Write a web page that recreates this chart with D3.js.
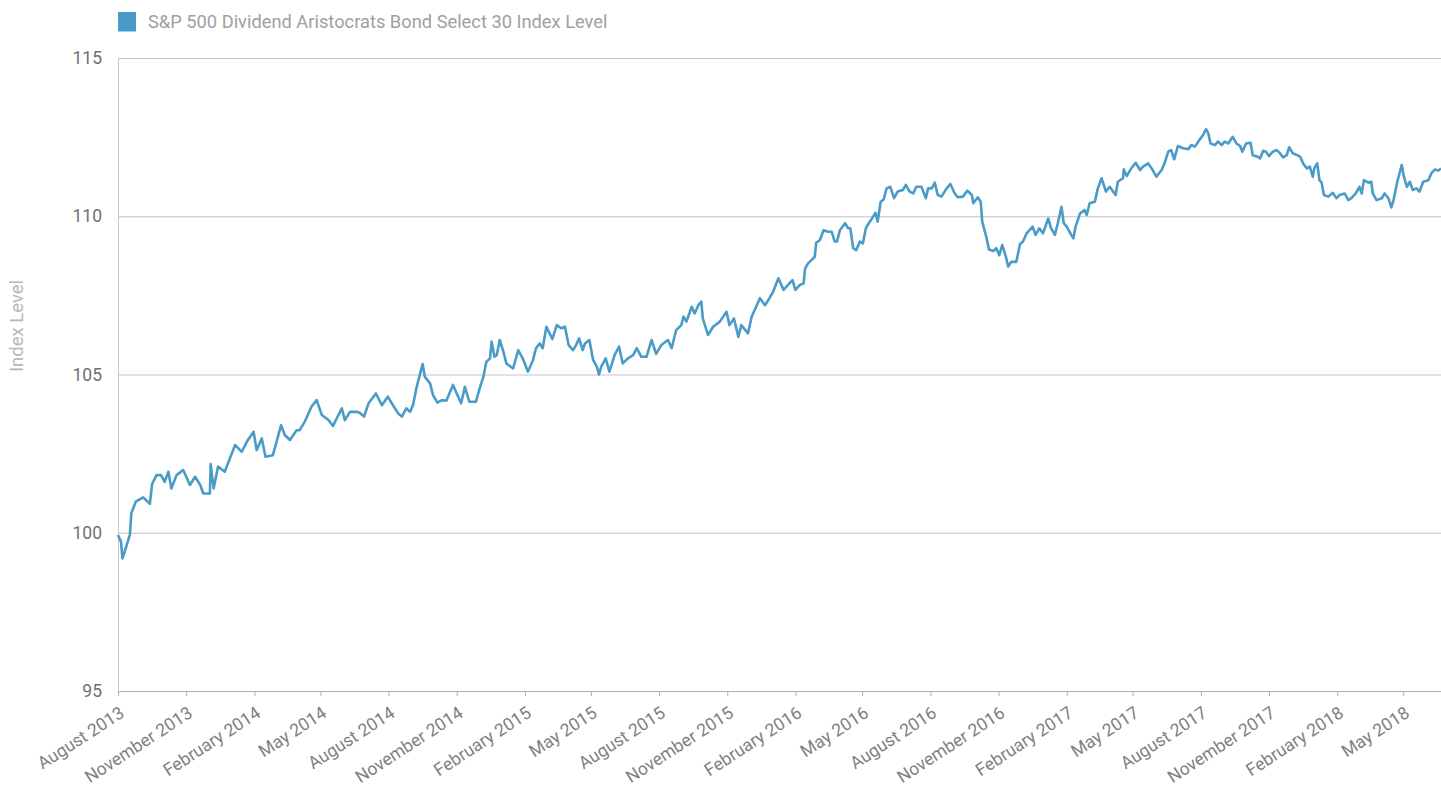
<!DOCTYPE html>
<html><head><meta charset="utf-8">
<script src="https://cdn.jsdelivr.net/npm/d3@7"></script>
<style>
html,body{margin:0;padding:0;background:#fff;}
svg{display:block;font-family:Roboto,"Open Sans",sans-serif;}
</style></head>
<body>
<svg id="chart" width="1441" height="787"></svg>
<script>
const seriesName = "S&P 500 Dividend Aristocrats Bond Select 30 Index Level";
const yAxisTitle = "Index Level";
const yTicks = [95, 100, 105, 110, 115];
const xTickDates = ["2013-08-01","2013-11-01","2014-02-01","2014-05-01","2014-08-01","2014-11-01","2015-02-01","2015-05-01","2015-08-01","2015-11-01","2016-02-01","2016-05-01","2016-08-01","2016-11-01","2017-02-01","2017-05-01","2017-08-01","2017-11-01","2018-02-01","2018-05-01"];
const dates = [
"2013-08-01","2013-08-05","2013-08-07","2013-08-10","2013-08-17","2013-08-19","2013-08-25","2013-09-04","2013-09-13","2013-09-16",
"2013-09-22","2013-09-28","2013-10-03","2013-10-08","2013-10-12","2013-10-19","2013-10-28","2013-11-06","2013-11-13","2013-11-20",
"2013-11-24","2013-12-03","2013-12-04","2013-12-08","2013-12-14","2013-12-23","2013-12-30","2014-01-06","2014-01-15","2014-01-22",
"2014-01-31","2014-02-04","2014-02-11","2014-02-16","2014-02-26","2014-03-03","2014-03-09","2014-03-14","2014-03-21","2014-03-30",
"2014-04-03","2014-04-10","2014-04-19","2014-04-26","2014-05-03","2014-05-12","2014-05-18","2014-05-23","2014-05-30","2014-06-03",
"2014-06-10","2014-06-19","2014-06-23","2014-06-29","2014-07-05","2014-07-15","2014-07-23","2014-07-31","2014-08-07","2014-08-14",
"2014-08-19","2014-08-25","2014-08-30","2014-09-03","2014-09-08","2014-09-16","2014-09-19","2014-09-26","2014-09-30","2014-10-06",
"2014-10-12","2014-10-18","2014-10-27","2014-11-01","2014-11-07","2014-11-12","2014-11-18","2014-11-27","2014-12-02","2014-12-07",
"2014-12-11","2014-12-16","2014-12-18","2014-12-22","2014-12-25","2014-12-29","2015-01-03","2015-01-07","2015-01-16","2015-01-23",
"2015-01-30","2015-02-05","2015-02-07","2015-02-12","2015-02-16","2015-02-21","2015-02-25","2015-03-02","2015-03-10","2015-03-16",
"2015-03-22","2015-03-27","2015-04-01","2015-04-07","2015-04-11","2015-04-15","2015-04-20","2015-04-23","2015-04-29","2015-05-04",
"2015-05-09","2015-05-12","2015-05-15","2015-05-21","2015-05-26","2015-06-02","2015-06-08","2015-06-13","2015-06-20","2015-06-27",
"2015-07-02","2015-07-08","2015-07-15","2015-07-22","2015-07-28","2015-08-04","2015-08-13","2015-08-18","2015-08-24","2015-08-31",
"2015-09-03","2015-09-07","2015-09-14","2015-09-18","2015-09-23","2015-09-27","2015-09-29","2015-10-06","2015-10-13","2015-10-22",
"2015-10-31","2015-11-04","2015-11-10","2015-11-16","2015-11-20","2015-11-29","2015-12-04","2015-12-10","2015-12-15","2015-12-22",
"2015-12-28","2016-01-02","2016-01-09","2016-01-16","2016-01-22","2016-01-28","2016-02-01","2016-02-07","2016-02-12","2016-02-14",
"2016-02-18","2016-02-23","2016-02-27","2016-02-29","2016-03-05","2016-03-10","2016-03-16","2016-03-21","2016-03-25","2016-03-28",
"2016-04-01","2016-04-08","2016-04-12","2016-04-15","2016-04-19","2016-04-23","2016-04-28","2016-05-02","2016-05-06","2016-05-10",
"2016-05-16","2016-05-19","2016-05-22","2016-05-26","2016-05-30","2016-06-03","2016-06-08","2016-06-13","2016-06-18","2016-06-25",
"2016-06-29","2016-07-04","2016-07-09","2016-07-13","2016-07-20","2016-07-26","2016-07-29","2016-08-03","2016-08-07","2016-08-11",
"2016-08-16","2016-08-23","2016-08-28","2016-09-03","2016-09-07","2016-09-14","2016-09-20","2016-09-26","2016-09-28","2016-10-04",
"2016-10-08","2016-10-10","2016-10-16","2016-10-19","2016-10-25","2016-10-29","2016-11-02","2016-11-06","2016-11-11","2016-11-14",
"2016-11-18","2016-11-25","2016-11-30","2016-12-04","2016-12-09","2016-12-17","2016-12-21","2016-12-26","2016-12-31","2017-01-07",
"2017-01-11","2017-01-16","2017-01-20","2017-01-25","2017-01-28","2017-02-01","2017-02-06","2017-02-10","2017-02-13","2017-02-19",
"2017-02-25","2017-02-28","2017-03-04","2017-03-11","2017-03-15","2017-03-20","2017-03-26","2017-03-31","2017-04-08","2017-04-11",
"2017-04-18","2017-04-19","2017-04-23","2017-04-29","2017-05-05","2017-05-11","2017-05-15","2017-05-22","2017-05-28","2017-06-02",
"2017-06-09","2017-06-13","2017-06-18","2017-06-22","2017-06-26","2017-07-01","2017-07-08","2017-07-15","2017-07-19","2017-07-24",
"2017-07-30","2017-08-04","2017-08-08","2017-08-11","2017-08-14","2017-08-20","2017-08-24","2017-08-29","2017-09-02","2017-09-07",
"2017-09-13","2017-09-18","2017-09-23","2017-09-26","2017-10-01","2017-10-07","2017-10-10","2017-10-17","2017-10-20","2017-10-24",
"2017-10-28","2017-11-01","2017-11-06","2017-11-11","2017-11-15","2017-11-20","2017-11-25","2017-11-28","2017-12-03","2017-12-09",
"2017-12-13","2017-12-17","2017-12-22","2017-12-26","2017-12-30","2018-01-01","2018-01-05","2018-01-08","2018-01-11","2018-01-14",
"2018-01-20","2018-01-26","2018-01-31","2018-02-04","2018-02-11","2018-02-16","2018-02-20","2018-02-26","2018-03-03","2018-03-06",
"2018-03-09","2018-03-15","2018-03-19","2018-03-21","2018-03-26","2018-04-02","2018-04-06","2018-04-11","2018-04-15","2018-04-18",
"2018-04-23","2018-04-29","2018-05-02","2018-05-06","2018-05-10","2018-05-14","2018-05-19","2018-05-23","2018-05-28","2018-06-04",
"2018-06-08","2018-06-13","2018-06-17","2018-06-21"
];
const values = [
99.93,99.72,99.19,99.40,99.93,100.62,100.98,101.12,100.91,101.54,
101.82,101.82,101.61,101.93,101.40,101.82,101.98,101.51,101.77,101.51,
101.24,101.24,102.17,101.40,102.09,101.93,102.35,102.77,102.56,102.88,
103.19,102.61,102.98,102.40,102.45,102.88,103.40,103.09,102.93,103.24,
103.24,103.51,103.98,104.19,103.72,103.56,103.37,103.61,103.93,103.56,
103.82,103.82,103.79,103.67,104.09,104.40,104.03,104.30,104.03,103.77,
103.67,103.93,103.82,104.03,104.61,105.33,104.93,104.72,104.35,104.11,
104.19,104.17,104.67,104.40,104.09,104.61,104.14,104.14,104.56,104.93,
105.40,105.51,106.04,105.56,105.61,106.09,105.72,105.35,105.19,105.77,
105.46,105.09,105.19,105.46,105.83,105.98,105.83,106.51,106.12,106.56,
106.46,106.51,105.93,105.77,105.93,106.14,105.77,105.98,106.09,105.46,
105.25,105.00,105.25,105.51,105.09,105.61,105.88,105.35,105.51,105.61,
105.83,105.56,105.56,106.09,105.65,105.93,106.09,105.83,106.40,106.56,
106.83,106.67,107.14,106.93,107.19,107.30,106.77,106.25,106.51,106.67,
106.98,106.56,106.77,106.19,106.56,106.30,106.83,107.14,107.41,107.19,
107.41,107.62,108.04,107.67,107.83,107.98,107.67,107.83,107.88,108.35,
108.51,108.62,108.72,109.16,109.25,109.56,109.51,109.51,109.20,109.20,
109.56,109.78,109.62,109.62,108.99,108.93,109.20,109.14,109.62,109.78,
109.99,110.11,109.83,110.46,110.53,110.88,110.93,110.57,110.78,110.83,
110.99,110.78,110.72,110.93,110.93,110.57,110.88,110.88,111.06,110.67,
110.62,110.88,111.02,110.72,110.60,110.62,110.81,110.67,110.41,110.60,
110.46,109.83,109.30,108.95,108.90,108.99,108.77,109.09,108.72,108.41,
108.56,108.56,109.12,109.20,109.46,109.67,109.41,109.62,109.46,109.93,
109.62,109.41,109.78,110.30,109.78,109.67,109.46,109.30,109.67,110.09,
110.20,110.04,110.41,110.46,110.88,111.20,110.78,110.93,110.67,111.09,
111.20,111.48,111.27,111.51,111.69,111.46,111.57,111.67,111.46,111.25,
111.46,111.67,112.04,112.09,111.80,112.22,112.15,112.12,112.25,112.20,
112.41,112.57,112.75,112.62,112.30,112.25,112.36,112.25,112.36,112.30,
112.51,112.30,112.22,112.04,112.30,112.32,111.93,111.88,111.83,112.07,
112.04,111.90,112.04,112.09,112.01,111.86,111.93,112.18,111.99,111.93,
111.88,111.67,111.51,111.57,111.25,111.51,111.67,111.14,111.06,110.67,
110.62,110.74,110.57,110.67,110.72,110.51,110.57,110.72,110.93,110.72,
111.14,111.06,111.09,110.72,110.51,110.57,110.72,110.57,110.28,110.51,
111.09,111.62,111.25,110.93,111.09,110.83,110.88,110.78,111.09,111.14,
111.36,111.48,111.44,111.51
];
const domainStart = "2013-08-01", domainEnd = "2018-06-21";

const parse = d3.timeParse("%Y-%m-%d");
const data = dates.map((d,i)=>({date:parse(d), value:values[i]}));

const svg = d3.select("#chart");
const margin = {left:118, top:58, right:0, bottom:96};
const W = 1441, H = 787;
const x = d3.scaleTime().domain([parse(domainStart), parse(domainEnd)]).range([margin.left, W - margin.right]);
const y = d3.scaleLinear().domain([95,115]).range([H - margin.bottom, margin.top]);

// gridlines
svg.append("g").selectAll("line").data(yTicks.filter(t=>t>95)).join("line")
  .attr("x1", margin.left).attr("x2", W).attr("y1", d=>y(d)+0.5).attr("y2", d=>y(d)+0.5)
  .attr("stroke", "#c4c4c4").attr("stroke-width", 1);

// y axis
const yAxis = svg.append("g").attr("transform", `translate(${margin.left},0)`)
  .call(d3.axisLeft(y).tickValues(yTicks).tickSize(0).tickPadding(16).tickFormat(d3.format("d")));
yAxis.select(".domain").attr("stroke", "#c8c8c8");
yAxis.selectAll("text").attr("font-size", 17.5).attr("fill", "#707070").attr("font-family","Roboto");

// x axis
const xAxis = svg.append("g").attr("transform", `translate(0,${y(95)})`)
  .call(d3.axisBottom(x).tickValues(xTickDates.map(parse)).tickSize(5).tickFormat(d3.timeFormat("%B %Y")));
xAxis.select(".domain").attr("stroke", "#b0b0b0");
xAxis.selectAll(".tick line").attr("stroke", "#b0b0b0");
xAxis.selectAll("text").attr("font-size", 17.5).attr("fill", "#808080").attr("font-family","Roboto")
  .attr("text-anchor", "end").attr("y", 0).attr("dy", 0)
  .attr("transform", "translate(7,25) rotate(-33)");

// y title
svg.append("text").attr("transform", `translate(23,${326}) rotate(-90)`)
  .attr("text-anchor", "middle").attr("font-size", 18.5).attr("fill", "#b8b8b8").text(yAxisTitle);

// legend
svg.append("rect").attr("x", 118).attr("y", 12).attr("width", 18).attr("height", 19.5).attr("fill", "#4b9bc8");
svg.append("text").attr("x", 148).attr("y", 27.7).attr("font-size", 18.3).attr("fill", "#a0a0a0").text(seriesName);

// line
svg.append("path").datum(data)
  .attr("fill", "none").attr("stroke", "#4a9bc7").attr("stroke-width", 2.6)
  .attr("stroke-linejoin", "round")
  .attr("d", d3.line().x(d=>x(d.date)).y(d=>y(d.value)));
</script>
</body></html>
